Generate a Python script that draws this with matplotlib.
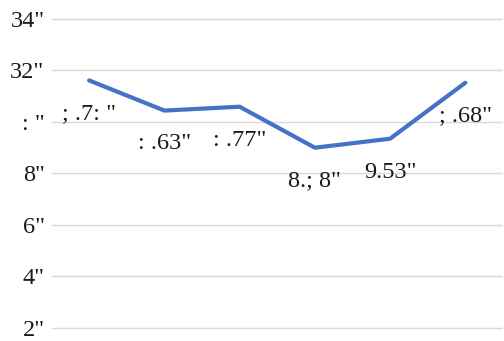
import matplotlib
matplotlib.use("Agg")
import matplotlib.pyplot as plt

# values (labels kept as shown in the reference)
categories = [0, 1, 2, 3, 4, 5]
values = [11.60, 10.43, 10.58, 8.99, 9.34, 11.51]
point_labels = ['; .7: "', ': .63"', ': .77"', '8.; 8"', '9.53"', '; .68"']
ytick_values = [2, 4, 6, 8, 10, 12, 14]
ytick_labels = ['2"', '4"', '6"', '8"', ': "', '32"', '34"']

plt.rcParams['font.family'] = ['Liberation Serif', 'DejaVu Serif']

fig = plt.figure(figsize=(5.04, 3.41), dpi=100)
ax = fig.add_axes([51.5 / 504, 1 - 330 / 341, (503 - 51.5) / 504, (330 - 16.5) / 341])

ax.plot(categories, values, color='#4472C4', linewidth=3.0, solid_capstyle='round', zorder=3)

for x, y, lab in zip(categories, values, point_labels):
    ax.annotate(lab, (x, y), xytext=(0, -24), textcoords='offset points',
                ha='center', va='center', fontsize=17.5, color='#1a1a1a')

ax.set_xlim(-0.5, 5.5)
ax.set_ylim(2 - 2 * 2 / 51.5, 14 + 2 * 2 / 51.5)
ax.set_yticks(ytick_values)
ax.set_yticklabels(ytick_labels, fontsize=17.5, color='#1a1a1a')
ax.set_xticks([])
ax.tick_params(axis='y', length=0, pad=5)
ax.grid(axis='y', color='#d9d9d9', linewidth=1.0)
ax.set_axisbelow(True)
for s in ax.spines.values():
    s.set_visible(False)

fig.savefig('out.png', dpi=100)
